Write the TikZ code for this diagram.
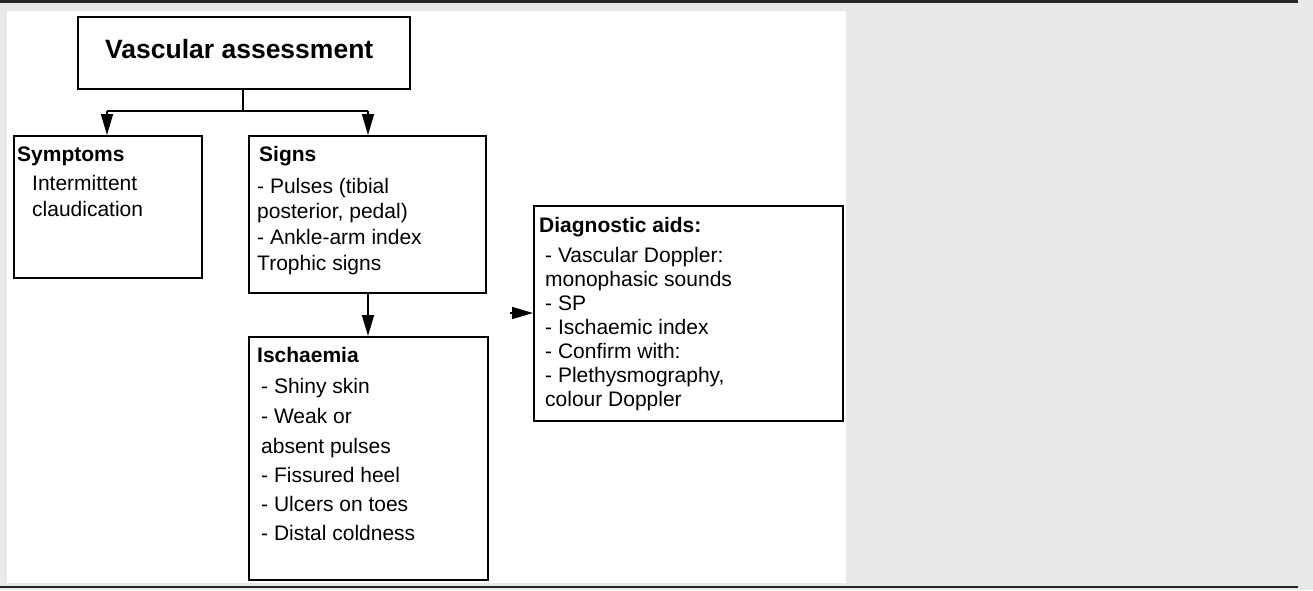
\documentclass[tikz,border=0pt]{standalone}
\usepackage{fontspec}
\setmainfont{Liberation Sans}
\usetikzlibrary{arrows.meta}
\definecolor{pagegray}{HTML}{E9E9E9}
\begin{document}
\begin{tikzpicture}[x=1pt,y=-1pt,
  box/.style={draw=black,line width=1.8pt,inner sep=0pt,anchor=north west},
  txt/.style={anchor=base west,inner sep=0pt,font=\fontsize{21}{25}\selectfont},
  head/.style={txt,font=\fontsize{21}{25}\selectfont\bfseries},
  conn/.style={line width=1.6pt},
  arr/.style={conn,-{Triangle[length=21pt,width=12pt]}},
  rule/.style={line width=2.6pt,draw=black!85}]
% page, panel and rules
\fill[pagegray] (0,0) rectangle (1313,590);
\useasboundingbox (0,0) rectangle (1313,590);
\fill[white] (7,11) rectangle (846,583);
\draw[rule] (0,1.5) -- (1298,1.5);
\draw[rule] (0,587) -- (1298,587);

% boxes
\node[box,minimum width=332pt,minimum height=72pt] (top) at (77,16) {};
\node[font=\fontsize{26.5}{30}\selectfont\bfseries,anchor=base west,inner sep=0pt] (ttl) at (105,58) {Vascular assessment};
\node[box,minimum width=188pt,minimum height=142pt] (sym) at (13,135) {};
\node[box,minimum width=237pt,minimum height=157pt] (sig) at (248,135) {};
\node[box,minimum width=239pt,minimum height=243pt] (isc) at (248,336) {};
\node[box,minimum width=309pt,minimum height=215pt] (dia) at (533,205) {};

% symptoms
\node[head] (symh) at (17,161) {Symptoms};
\node[txt] (sym1) at (32,190) {Intermittent};
\node[txt] (sym2) at (32,216) {claudication};

% signs
\node[head] (sigh) at (259,161) {Signs};
\node[txt] (sig1) at (257,193) {- Pulses (tibial};
\node[txt] (sig2) at (257,218) {posterior, pedal)};
\node[txt] (sig3) at (257,244) {- Ankle-arm index};
\node[txt] (sig4) at (257,270) {Trophic signs};

% ischaemia
\node[head] (isch) at (257,362) {Ischaemia};
\node[txt] (isc1) at (261,393) {- Shiny skin};
\node[txt] (isc2) at (261,423) {- Weak or};
\node[txt] (isc3) at (261,453) {absent pulses};
\node[txt] (isc4) at (261,482) {- Fissured heel};
\node[txt] (isc5) at (261,511) {- Ulcers on toes};
\node[txt] (isc6) at (261,540) {- Distal coldness};

% diagnostic aids
\node[head] (diah) at (539,232) {Diagnostic aids:};
\node[txt] (dia1) at (545,262) {- Vascular Doppler:};
\node[txt] (dia2) at (545,286) {monophasic sounds};
\node[txt] (dia3) at (545,310) {- SP};
\node[txt] (dia4) at (545,334) {- Ischaemic index};
\node[txt] (dia5) at (545,358) {- Confirm with:};
\node[txt] (dia6) at (545,382) {- Plethysmography,};
\node[txt] (dia7) at (545,406) {colour Doppler};

% connectors
\coordinate (split) at (243,111);
\coordinate (lft) at (107,111);
\coordinate (rgt) at (368,111);
\coordinate (dstub) at (510,313);
\draw[conn] (top.south -| split) -- (split);
\draw[conn] (lft) -- (rgt);
\draw[arr] (lft) -- (lft |- sym.north);
\draw[arr] (rgt) -- (rgt |- sig.north);
\draw[arr] (sig.south -| rgt) -- (isc.north -| rgt);
\draw[arr] (dstub) -- (dstub -| dia.west);
\end{tikzpicture}
\end{document}
